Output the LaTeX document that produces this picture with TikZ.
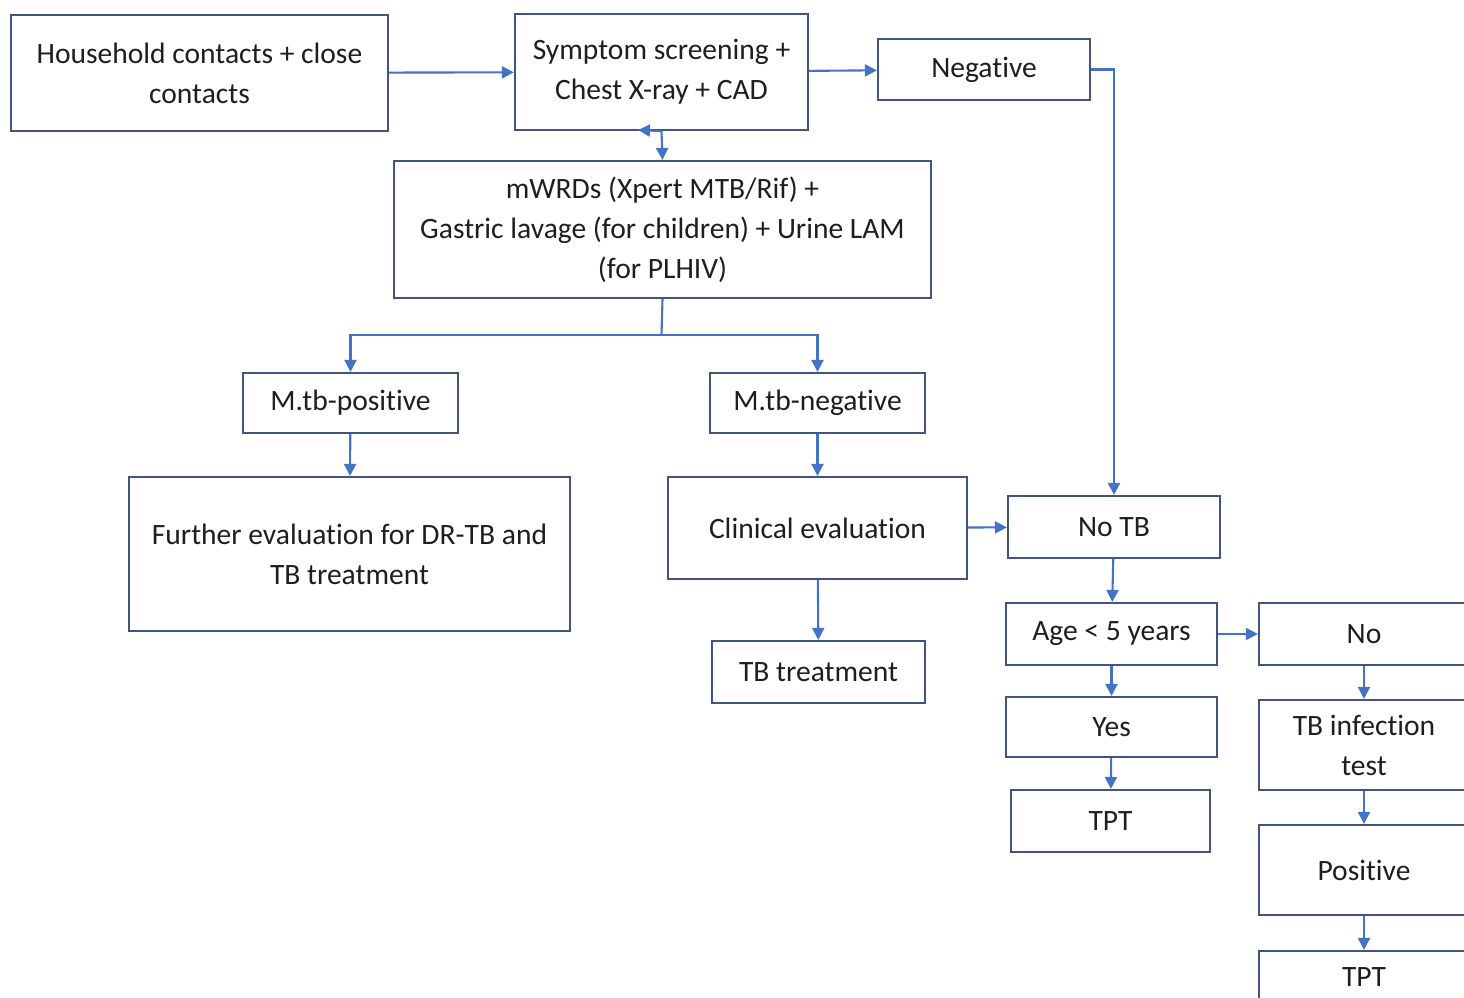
\documentclass[tikz,border=0pt]{standalone}
\usepackage{fontspec}
\setmainfont{Carlito}[Ligatures={NoCommon,NoContextual},Contextuals=NoAlternate]
\usetikzlibrary{arrows.meta, positioning}
\definecolor{bframe}{RGB}{66,84,128}
\definecolor{barrow}{RGB}{68,114,196}
\definecolor{btext}{RGB}{30,30,30}

\begin{document}
\begin{tikzpicture}[x=0.01cm,y=-0.01cm,
  box/.style={draw=bframe,line width=0.6pt,inner sep=0pt,align=center,
              text=btext,font=\fontsize{8.4}{11.4}\selectfont},
  arr/.style={-{Triangle[length=3.4pt,width=3.4pt]},barrow,line width=0.6pt}
]
\useasboundingbox (0,0) rectangle (1464,997);
\node[box,minimum width=3.77cm,minimum height=1.16cm] (hh)   at (199.5,73) {Household contacts + close\\contacts};
\node[box,minimum width=2.93cm,minimum height=1.16cm] (sym)  at (661.5,72) {Symptom screening +\\Chest X-ray + CAD};
\node[box,minimum width=2.12cm,minimum height=0.61cm] (neg)  at (984,69.5) {Negative};
\node[box,minimum width=5.37cm,minimum height=1.37cm] (mwrd) at (662.5,229.5) {mWRDs (Xpert MTB/Rif) +\\Gastric lavage (for children) + Urine LAM\\(for PLHIV)};
\node[box,minimum width=2.15cm,minimum height=0.60cm] (mpos) at (350.5,403) {M.tb-positive};
\node[box,minimum width=2.15cm,minimum height=0.60cm] (mneg) at (817.5,403) {M.tb-negative};
\node[box,minimum width=4.41cm,minimum height=1.54cm] (furth) at (349.5,554) {Further evaluation for DR-TB and\\TB treatment};
\node[box,minimum width=2.99cm,minimum height=1.02cm] (clin) at (817.5,528) {Clinical evaluation};
\node[box,minimum width=2.13cm,minimum height=0.62cm] (trt)  at (818.5,672) {TB treatment};
\node[box,minimum width=2.12cm,minimum height=0.62cm] (notb) at (1114,527) {No TB};
\node[box,minimum width=2.11cm,minimum height=0.62cm] (age)  at (1111.5,634) {Age < 5 years};
\node[box,minimum width=2.10cm,minimum height=0.62cm] (no)   at (1364,634) {No};
\node[box,minimum width=2.11cm,minimum height=0.60cm] (yes)  at (1111.5,727) {Yes};
\node[box,minimum width=1.99cm,minimum height=0.62cm] (tptA) at (1110.5,821) {TPT};
\node[box,minimum width=2.10cm,minimum height=0.90cm] (tbi)  at (1364,745) {TB infection\\test};
\node[box,minimum width=2.10cm,minimum height=0.90cm] (pos)  at (1364,870) {Positive};
\node[box,minimum width=2.10cm,minimum height=0.52cm] (tptB) at (1364,977) {TPT};
\coordinate (stub) at (638,130);
\coordinate (split) at (661.5,335);
% connectors
\draw[arr] (hh) -- (sym);
\draw[arr] (sym) -- (neg);
\draw[arr] (sym.south) -- (stub);
\draw[arr] (neg.east) -| (notb.north);
\draw[arr] (sym.south) -- (mwrd.north);
\draw[line width=0.6pt,barrow] (mwrd.south) -- (split);
\draw[arr] (split) -| (mpos.north);
\draw[arr] (split) -| (mneg.north);
\draw[arr] (mpos) -- (furth);
\draw[arr] (mneg) -- (clin);
\draw[arr] (clin) -- (trt);
\draw[arr] (clin) -- (notb);
\draw[arr] (notb) -- (age);
\draw[arr] (age) -- (no);
\draw[arr] (age) -- (yes);
\draw[arr] (yes) -- (tptA);
\draw[arr] (no) -- (tbi);
\draw[arr] (tbi) -- (pos);
\draw[arr] (pos) -- (tptB);
\end{tikzpicture}
\end{document}
